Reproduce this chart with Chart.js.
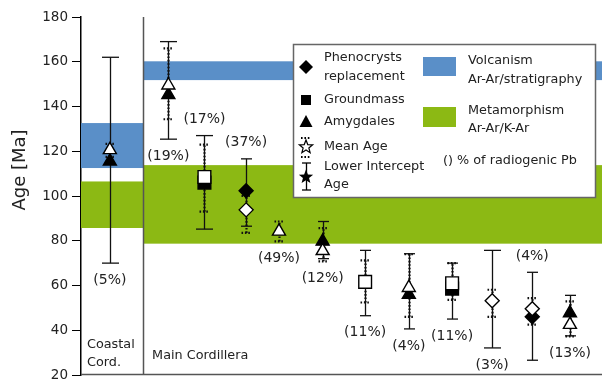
<!DOCTYPE html>
<html>
<head>
<meta charset="utf-8">
<script src="https://cdn.jsdelivr.net/npm/chart.js@4.4.1/dist/chart.umd.min.js"></script>
<style>
  html, body { margin: 0; padding: 0; background: #fff; }
  canvas { display: block; }
</style>
</head>
<body>
<canvas id="ages" width="602" height="380"></canvas>
<script>
// ---- Data -------------------------------------------------------------
// Sample order along the section (first sample: Coastal Cordillera)
const sampleX      = [0.72, 2.18, 3.08, 4.12, 4.94, 6.03, 7.09, 8.18, 9.26, 10.26, 11.26, 12.2];
const mineral      = ['amygdale', 'amygdale', 'groundmass', 'phenocryst', 'amygdale', 'amygdale',
                      'groundmass', 'amygdale', 'groundmass', 'phenocryst', 'phenocryst', 'amygdale'];
// Mean age (open symbol, dotted error bar)
const meanAge      = [120.6, 149.5, 108.5, 93.8, 84.2, 75.5, 61.6, 59.0, 61.0, 53.2, 49.6, 42.5];
const meanLow      = [117.5, 134.3, 93.0, 83.5, 79.7, 70.8, 52.4, 46.0, 53.6, 46.0, 42.5, 37.3];
const meanHigh     = [123.3, 166.0, 123.0, 100.0, 88.6, 85.6, 71.2, 74.0, 70.0, 58.1, 54.4, 52.9];
// Lower intercept age (filled symbol, solid error bar)
const interceptAge = [115.5, 145.2, 106.0, 102.3, null, 79.7, null, 55.9, 58.6, null, 46.0, 47.7];
const errLow       = [70.0, 125.4, 85.2, 86.5, null, 72.0, 46.5, 40.6, 45.0, 32.1, 26.6, 37.5];
const errHigh      = [162.0, 169.0, 127.0, 116.6, null, 88.6, 75.7, 74.2, 70.0, 75.7, 65.9, 55.6];
// % of radiogenic Pb
const radiogenicPb = [5, 19, 17, 37, 49, 12, 11, 4, 11, 3, 4, 13];
const pbLabelSide  = ['below', 'below', 'above', 'above', 'below', 'below',
                      'below', 'below', 'below', 'below', 'above', 'below'];

// Domains and reference age ranges [min, max] per domain
const domainNames      = [['Coastal', 'Cord.'], ['Main Cordillera']];
const domainEdges      = [0, 1.55, 13];
const volcanismAges    = [[112.5, 132.6], [151.8, 160.2]];
const metamorphismAges = [[85.7, 106.5], [78.7, 113.8]];

const yTicks = [20, 40, 60, 80, 100, 120, 140, 160, 180];

// ---- Styling ----------------------------------------------------------
const FONT = '"DejaVu Sans", sans-serif';
const BLUE = '#5a8fc8';
const GREEN = '#8cb914';
const INK = '#111';
const markerStyle  = { phenocryst: 'rectRot', groundmass: 'rect', amygdale: 'triangle' };
const markerRadius = { phenocryst: 7, groundmass: 9, amygdale: 7.5 };

function hbar(ctx, x, y, w) {
  ctx.beginPath(); ctx.moveTo(x - w / 2, y); ctx.lineTo(x + w / 2, y); ctx.stroke();
}
function vbar(ctx, x, y0, y1) {
  ctx.beginPath(); ctx.moveTo(x, y0); ctx.lineTo(x, y1); ctx.stroke();
}
function starPath(ctx, cx, cy, R, r) {
  ctx.beginPath();
  for (let k = 0; k < 10; k++) {
    const ang = -Math.PI / 2 + k * Math.PI / 5;
    const rad = k % 2 ? r : R;
    ctx.lineTo(cx + rad * Math.cos(ang), cy + rad * Math.sin(ang));
  }
  ctx.closePath();
}

// Bands, domain frame and error bars, underneath the symbols
const backdrop = {
  id: 'backdrop',
  beforeDatasetsDraw(chart) {
    const { ctx, chartArea: a, scales: { x, y } } = chart;
    ctx.save();
    [[volcanismAges, BLUE], [metamorphismAges, GREEN]].forEach(([bands, col]) => {
      bands.forEach((b, i) => {
        const x0 = x.getPixelForValue(domainEdges[i]);
        const x1 = x.getPixelForValue(domainEdges[i + 1]);
        const yt = y.getPixelForValue(b[1]);
        const yb = y.getPixelForValue(b[0]);
        ctx.fillStyle = col;
        ctx.fillRect(x0, yt, x1 - x0, yb - yt);
      });
    });

    // divider between domains and bottom frame line
    ctx.strokeStyle = '#555';
    ctx.lineWidth = 1.5;
    const xd = Math.round(x.getPixelForValue(domainEdges[1])) + 0.5;
    vbar(ctx, xd, a.top, a.bottom);
    ctx.beginPath(); ctx.moveTo(a.left, a.bottom - 0.5); ctx.lineTo(a.right, a.bottom - 0.5); ctx.stroke();

    // solid error bars (lower intercept)
    ctx.strokeStyle = INK;
    ctx.lineWidth = 1.3;
    sampleX.forEach((sx, i) => {
      if (errLow[i] == null) return;
      const px = Math.round(x.getPixelForValue(sx)) + 0.5;
      const y0 = y.getPixelForValue(errLow[i]);
      const y1 = y.getPixelForValue(errHigh[i]);
      const cap = (errHigh[i] - errLow[i]) > 40 ? 17 : 11;
      vbar(ctx, px, y0, y1);
      hbar(ctx, px, y0, cap);
      hbar(ctx, px, y1, cap);
    });

    // dotted error bars (mean age)
    ctx.lineWidth = 2.2;
    ctx.setLineDash([1.6, 1.8]);
    sampleX.forEach((sx, i) => {
      const px = Math.round(x.getPixelForValue(sx)) + 0.5;
      const y0 = y.getPixelForValue(meanLow[i]);
      const y1 = y.getPixelForValue(meanHigh[i]);
      vbar(ctx, px, y0, y1);
      hbar(ctx, px, y0, 10);
      hbar(ctx, px, y1, 10);
    });
    ctx.restore();
  }
};

// Text labels and legend on top
const overlay = {
  id: 'overlay',
  afterDatasetsDraw(chart) {
    const { ctx, chartArea: a, scales: { x, y } } = chart;
    ctx.save();
    ctx.fillStyle = '#222';
    ctx.textBaseline = 'middle';

    // % radiogenic Pb labels
    ctx.font = '14px ' + FONT;
    ctx.textAlign = 'center';
    sampleX.forEach((sx, i) => {
      const below = pbLabelSide[i] === 'below';
      const lows = [meanLow[i], errLow[i]].filter(v => v != null);
      const highs = [meanHigh[i], errHigh[i]].filter(v => v != null);
      const end = below ? Math.min(...lows) : Math.max(...highs);
      const py = y.getPixelForValue(end) + (below ? 17 : -16);
      ctx.fillText('(' + radiogenicPb[i] + '%)', x.getPixelForValue(sx), py);
    });

    // domain names
    ctx.textAlign = 'left';
    ctx.font = '12.8px ' + FONT;
    ctx.fillText(domainNames[0][0], a.left + 6, a.bottom - 30);
    ctx.fillText(domainNames[0][1], a.left + 6, a.bottom - 12);
    ctx.fillText(domainNames[1][0], x.getPixelForValue(domainEdges[1]) + 9, a.bottom - 19);

    // axis title
    ctx.save();
    ctx.translate(20, 170);
    ctx.rotate(-Math.PI / 2);
    ctx.textAlign = 'center';
    ctx.font = '18px ' + FONT;
    ctx.fillText('Age [Ma]', 0, 0);
    ctx.restore();

    // legend
    const L = a.right - 309, T = a.top + 27, W = 302, H = 153;
    ctx.fillStyle = '#fff';
    ctx.fillRect(L, T, W, H);
    ctx.strokeStyle = '#666';
    ctx.lineWidth = 1.5;
    ctx.strokeRect(L + 0.5, T + 0.5, W, H);

    const ix = L + 13;
    ctx.fillStyle = '#000';
    ctx.strokeStyle = '#000';
    // diamond
    ctx.beginPath();
    ctx.moveTo(ix, T + 16); ctx.lineTo(ix + 7, T + 23); ctx.lineTo(ix, T + 30); ctx.lineTo(ix - 7, T + 23);
    ctx.closePath(); ctx.fill();
    // square
    ctx.fillRect(ix - 5, T + 51, 10, 10);
    // triangle
    ctx.beginPath();
    ctx.moveTo(ix, T + 71); ctx.lineTo(ix + 6.5, T + 83); ctx.lineTo(ix - 6.5, T + 83);
    ctx.closePath(); ctx.fill();
    // open star with dotted bars
    ctx.lineWidth = 1.2;
    starPath(ctx, ix, T + 103, 7, 3);
    ctx.fillStyle = '#fff'; ctx.fill(); ctx.stroke();
    ctx.lineWidth = 2;
    ctx.setLineDash([1.6, 1.8]);
    hbar(ctx, ix, T + 94, 10);
    hbar(ctx, ix, T + 113, 10);
    ctx.setLineDash([]);
    // filled star with solid bar
    ctx.lineWidth = 1.3;
    vbar(ctx, ix + 0.5, T + 119, T + 146);
    hbar(ctx, ix + 0.5, T + 119, 9);
    hbar(ctx, ix + 0.5, T + 146, 9);
    ctx.fillStyle = '#000';
    starPath(ctx, ix, T + 133, 7.5, 3.2);
    ctx.fill();

    // colour swatches
    ctx.fillStyle = BLUE;
    ctx.fillRect(L + 130, T + 13, 33, 19);
    ctx.fillStyle = GREEN;
    ctx.fillRect(L + 130, T + 63, 33, 20);

    ctx.fillStyle = '#222';
    ctx.font = '12.8px ' + FONT;
    ctx.textAlign = 'left';
    const tx = L + 31;
    ctx.fillText('Phenocrysts', tx, T + 14);
    ctx.fillText('replacement', tx, T + 33);
    ctx.fillText('Groundmass', tx, T + 56);
    ctx.fillText('Amygdales', tx, T + 78);
    ctx.fillText('Mean Age', tx, T + 103);
    ctx.fillText('Lower Intercept', tx, T + 123);
    ctx.fillText('Age', tx, T + 141);
    const tx2 = L + 175;
    ctx.fillText('Volcanism', tx2, T + 17);
    ctx.fillText('Ar-Ar/stratigraphy', tx2, T + 36);
    ctx.fillText('Metamorphism', tx2, T + 67);
    ctx.fillText('Ar-Ar/K-Ar', tx2, T + 85);
    ctx.fillText('() % of radiogenic Pb', L + 150, T + 117);
    ctx.restore();
  }
};

const styles = mineral.map(m => markerStyle[m]);
const radii = mineral.map(m => markerRadius[m]);

new Chart(document.getElementById('ages'), {
  type: 'scatter',
  data: {
    datasets: [
      {
        label: 'Mean Age',
        data: sampleX.map((sx, i) => ({ x: sx, y: meanAge[i] })),
        pointStyle: styles,
        pointRadius: radii,
        pointBackgroundColor: '#fff',
        pointBorderColor: '#000',
        pointBorderWidth: 1.4,
        order: 0
      },
      {
        label: 'Lower Intercept Age',
        data: sampleX.map((sx, i) => ({ x: sx, y: interceptAge[i] })),
        pointStyle: styles,
        pointRadius: radii,
        pointBackgroundColor: '#000',
        pointBorderColor: '#000',
        pointBorderWidth: 1.4,
        order: 1
      }
    ]
  },
  options: {
    responsive: false,
    animation: false,
    devicePixelRatio: 1,
    layout: { autoPadding: false, padding: { top: 17, bottom: 5, left: 0, right: 0 } },
    plugins: { legend: { display: false }, tooltip: { enabled: false } },
    scales: {
      x: { type: 'linear', min: 0, max: 13, display: false },
      y: {
        min: 20,
        max: 180,
        afterBuildTicks: s => { s.ticks = yTicks.map(v => ({ value: v })); },
        afterFit: s => {
          s.width = 81;
          s.paddingTop = 0; s.paddingBottom = 0; s.paddingLeft = 0; s.paddingRight = 0;
        },
        grid: { drawOnChartArea: false, tickLength: 9, color: '#000', lineWidth: 1 },
        border: { color: '#000', width: 1.5 },
        ticks: { font: { family: FONT, size: 13.5 }, color: '#222', padding: 4 }
      }
    }
  },
  plugins: [backdrop, overlay]
});
</script>
</body>
</html>
